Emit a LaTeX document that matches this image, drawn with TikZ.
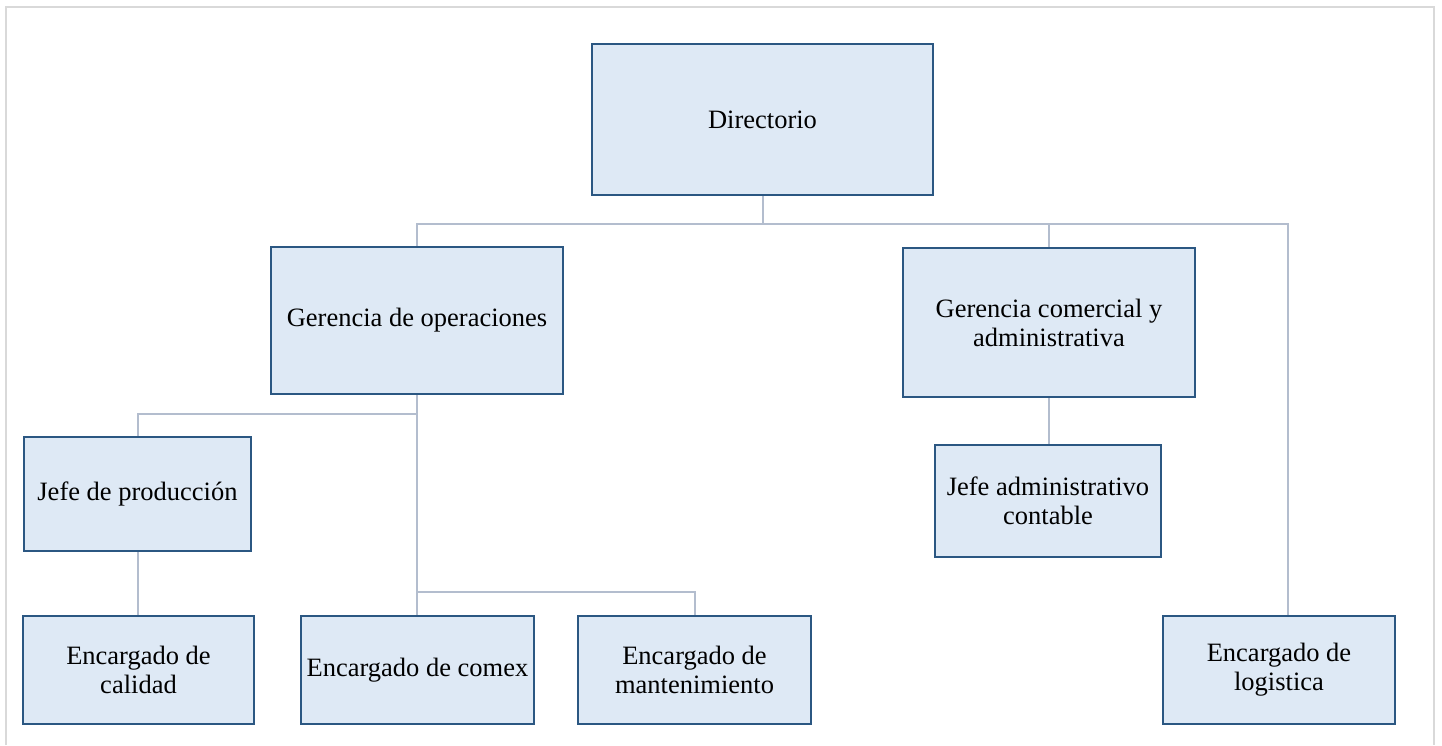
\documentclass[tikz,border=0pt]{standalone}
\usepackage{fontspec}
\setmainfont{Liberation Serif}
\definecolor{boxfill}{HTML}{DEE9F5}
\definecolor{boxdraw}{HTML}{2B5782}
\definecolor{linkc}{HTML}{B3BDCE}
\definecolor{framec}{HTML}{D9D9D9}
\begin{document}
\begin{tikzpicture}[x=1pt,y=-1pt,
  orgbox/.style={draw=boxdraw,fill=boxfill,line width=2.6pt,align=center,
    font=\fontsize{26.5}{29}\selectfont,inner sep=0pt},
  link/.style={draw=linkc,line width=2.4pt}]
\useasboundingbox (0,0) rectangle (1442,745);
\draw[framec,line width=1.8pt] (6,745) -- (6,7) -- (1434,7) -- (1434,745);
\newcommand{\obox}[6]{\node[orgbox,minimum width=#4-#2,minimum height=#5-#3] (#1) at ({(#2+#4)/2},{(#3+#5)/2}) {#6};}
\obox{dir}{592}{44}{933}{195}{Directorio}
\obox{gop}{271}{247}{563}{394}{Gerencia de operaciones}
\obox{gcom}{903}{248}{1195}{397}{Gerencia comercial y\\administrativa}
\obox{jprod}{24}{437}{251}{551}{Jefe de producción}
\obox{jadm}{935}{445}{1161}{557}{Jefe administrativo\\contable}
\obox{ecal}{23}{616}{254}{724}{Encargado de\\calidad}
\obox{ecom}{301}{616}{534}{724}{Encargado de comex}
\obox{eman}{578}{616}{811}{724}{Encargado de\\mantenimiento}
\obox{elog}{1163}{616}{1395}{724}{Encargado de\\logistica}
\coordinate (j1) at (763,224);
\coordinate (j2) at (417,414);
\coordinate (j3) at (417,592);
\draw[link] (dir.south -| j1) -- (j1) -| (gop.north -| j2);
\draw[link] (j1) -| (gcom.north);
\draw[link] (j1) -| (elog.north -| 1288,0);
\draw[link] (gop.south -| j2) -- (j2) -| (jprod.north -| 138,0);
\draw[link] (j2) -- (j3) -- (ecom.north -| j3);
\draw[link] (j3) -| (eman.north -| 695,0);
\draw[link] (jprod.south -| 138,0) -- (ecal.north -| 138,0);
\draw[link] (gcom.south -| 1049,0) -- (jadm.north -| 1049,0);
\end{tikzpicture}
\end{document}
